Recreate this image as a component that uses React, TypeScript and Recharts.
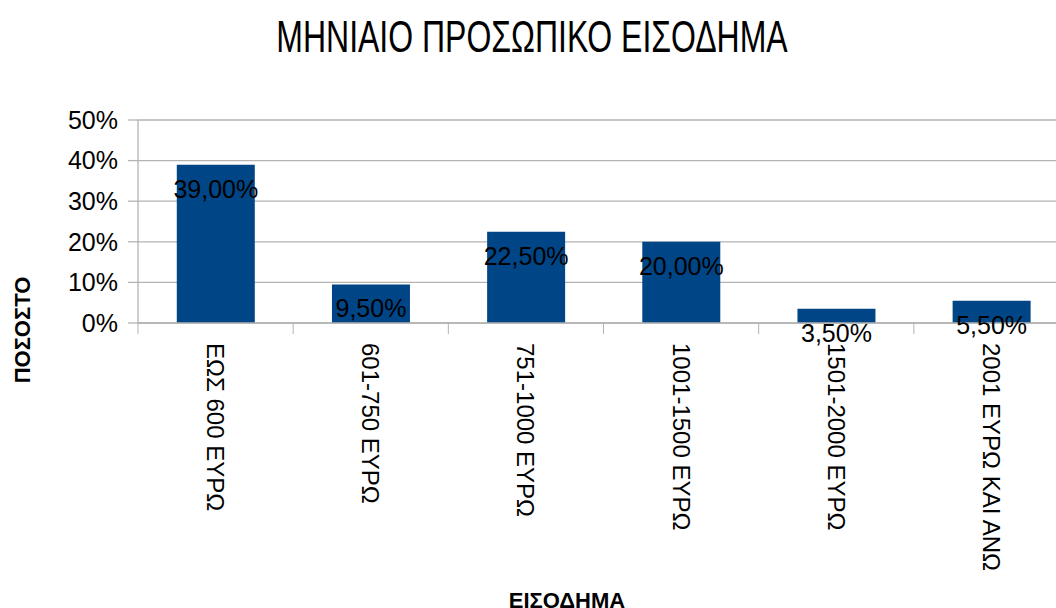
import React from 'react';
import { BarChart, Bar, XAxis, YAxis, CartesianGrid, LabelList } from 'recharts';

const categories = ['ΕΩΣ 600 ΕΥΡΩ', '601-750 ΕΥΡΩ', '751-1000 ΕΥΡΩ', '1001-1500 ΕΥΡΩ', '1501-2000 ΕΥΡΩ', '2001 ΕΥΡΩ ΚΑΙ ΑΝΩ'];
const percentages = [39, 9.5, 22.5, 20, 3.5, 5.5];
const yTicks = [0, 10, 20, 30, 40, 50];
const chartTitle = 'ΜΗΝΙΑΙΟ ΠΡΟΣΩΠΙΚΟ ΕΙΣΟΔΗΜΑ';
const xTitle = 'ΕΙΣΟΔΗΜΑ';
const yTitle = 'ΠΟΣΟΣΤΟ';

const data = categories.map((c, i) => ({ name: c, value: percentages[i] }));

const FONT = '"Liberation Sans", Arial, sans-serif';
const GRID = '#b3b3b3';

const fmt = (v: number) => v.toFixed(2).replace('.', ',') + '%';

const XTick = (props: any) => {
  const { x, y, payload, index } = props;
  const off = payload && payload.offset ? payload.offset : 77.5;
  const last = index === categories.length - 1;
  return (
    <g>
      <line x1={x - off} y1={y} x2={x - off} y2={y + 11} stroke={GRID} strokeWidth={1} />
      {last && <line x1={x + off} y1={y} x2={x + off} y2={y + 11} stroke={GRID} strokeWidth={1} />}
      <text
        transform={`translate(${x},${y + 20}) rotate(90)`}
        textAnchor="start"
        dominantBaseline="central"
        fontSize={24}
        fontFamily={FONT}
        fill="#000"
      >
        {payload.value}
      </text>
    </g>
  );
};

const BarLabel = (props: any) => {
  const { x, y, width, value } = props;
  return (
    <text
      x={Number(x) + Number(width) / 2}
      y={Number(y) + 24}
      textAnchor="middle"
      dominantBaseline="central"
      fontSize={25}
      fontFamily={FONT}
      fill="#000"
    >
      {fmt(Number(value))}
    </text>
  );
};

export default function App() {
  return (
    <div style={{ position: 'absolute', left: 0, top: 0, width: 1056, height: 608, overflow: 'hidden', background: '#fff' }}>
      <BarChart
        width={1090}
        height={608}
        data={data}
        margin={{ top: 120, right: 21, bottom: 0, left: 0 }}
        barCategoryGap="25%"
      >
        <CartesianGrid vertical={false} stroke={GRID} strokeWidth={1.3} />
        <XAxis
          dataKey="name"
          height={285}
          interval={0}
          tickSize={0}
          tickMargin={0}
          tickLine={false}
          axisLine={{ stroke: GRID, strokeWidth: 1.3 }}
          tick={<XTick />}
        />
        <YAxis
          width={138}
          domain={[0, 50]}
          ticks={yTicks}
          interval={0}
          tickSize={10}
          tickMargin={10}
          tickLine={{ stroke: GRID, strokeWidth: 1.3 }}
          axisLine={{ stroke: GRID, strokeWidth: 1.3 }}
          tickFormatter={(v: number) => `${v}%`}
          tick={{ fontSize: 25, fontFamily: FONT, fill: '#000' }}
        />
        <Bar dataKey="value" fill="#004586" isAnimationActive={false}>
          <LabelList dataKey="value" content={<BarLabel />} />
        </Bar>
      </BarChart>
      <svg width={1056} height={608} style={{ position: 'absolute', left: 0, top: 0, pointerEvents: 'none' }}>
        <text transform="translate(532,52) scale(1,1.4)" textAnchor="middle" fontSize={32} fontFamily={FONT} fill="#000">
          {chartTitle}
        </text>
        <text x={567} y={608} textAnchor="middle" fontSize={22} fontWeight="bold" fontFamily={FONT} fill="#000">
          {xTitle}
        </text>
        <text transform="translate(30,330) rotate(-90)" textAnchor="middle" fontSize={22} fontWeight="bold" fontFamily={FONT} fill="#000">
          {yTitle}
        </text>
      </svg>
    </div>
  );
}
